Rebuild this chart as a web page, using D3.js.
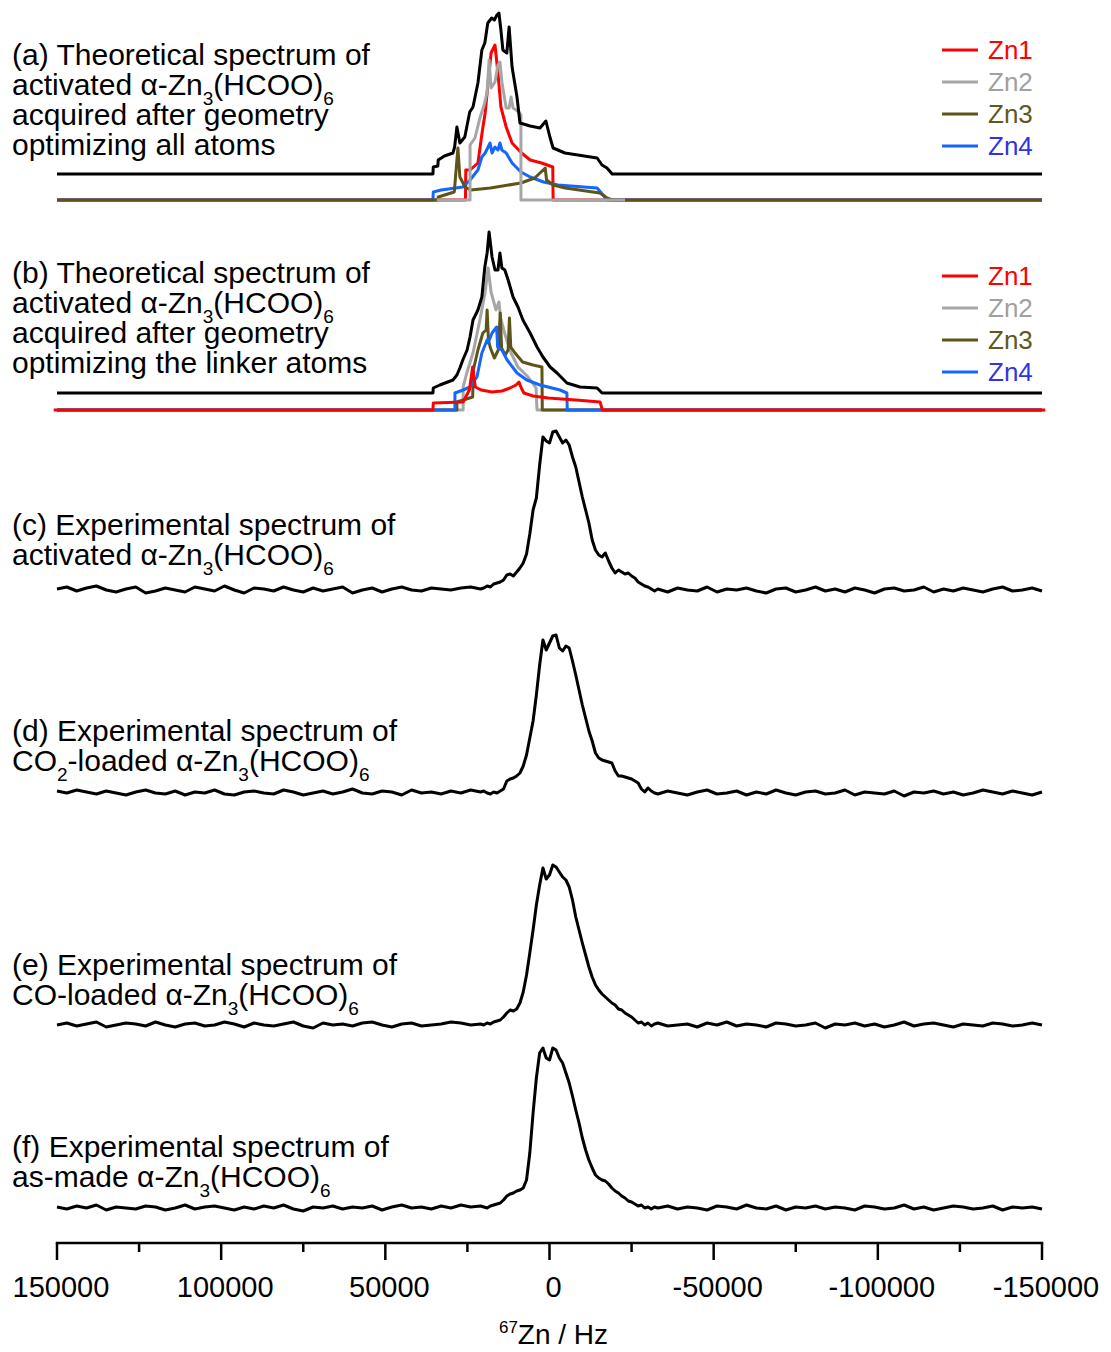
<!DOCTYPE html>
<html><head><meta charset="utf-8">
<script src="https://cdn.jsdelivr.net/npm/d3@7"></script>
<style>
body{margin:0;background:#fff}
svg{display:block}
text{font-family:"Liberation Sans",Arial,Helvetica,sans-serif;fill:#000}
</style>
</head><body>
<svg id="chart" width="1111" height="1352"></svg>
<script>
// ---------------- DATA (frequency in kHz, intensity in arbitrary units) ----------------
const majorTicks = [150, 100, 50, 0, -50, -100, -150];
const minorTicks = [125, 75, 25, -25, -75, -125];
const tickLabels = ["150000", "100000", "50000", "0", "-50000", "-100000", "-150000"];
const axisTitle = ["67", "Zn / Hz"];

const seriesNames = ["Zn1", "Zn2", "Zn3", "Zn4"];

// (a) theoretical, all atoms optimized
const aTotal = [[150,0],[35.5,0],[35.4,7],[34.0,8],[33.9,14],[32.0,18],[29.4,21],[28.9,27],[28.2,47],[27.3,31],[25.8,37],[24.3,62],[23.3,67],[21.8,91],[20.6,124],[19.7,131],[18.8,151],[17.6,156],[16.8,154],[16.0,159],[15.4,161],[14.8,144],[14.2,124],[13.0,121],[12.3,147],[11.4,107],[9.9,77],[9.0,51],[5.9,48],[2.9,46],[1.1,53],[-0.2,36],[-1.1,26],[-4.7,21],[-14.5,16],[-16.0,9],[-17.5,6],[-19.1,0],[-150,0]];
const aZn1 = [[150,0],[25.6,0],[25.5,30],[24.2,30],[21.8,37],[20.5,68],[19.6,87],[18.7,117],[17.8,147],[16.6,155],[15.7,127],[14.8,93],[13.2,73],[11.4,57],[8.5,47],[5.9,40],[2.4,37],[-1.0,33],[-1.1,0],[-150,0]];
const aZn2 = [[34.3,0],[24.2,0],[24.2,55],[22.7,62],[21.2,82],[19.9,95],[19.0,108],[18.4,140],[17.8,112],[16.6,118],[15.7,135],[15.1,138],[14.5,118],[13.2,92],[12.3,92],[11.7,103],[11.1,92],[9.3,88],[8.7,85],[8.7,0],[-23,0]];
const aZn3 = [[150,0],[34.0,0],[33.9,3],[29.0,8],[27.9,52],[27.3,23],[25.7,13],[24.0,10],[18.0,12],[8.7,17],[4.5,22],[1.3,32],[0.9,20],[-1.1,15],[-4.8,12],[-15.3,7],[-16.3,5],[-17.5,2],[-19.1,0],[-150,0]];
const aZn4 = [[150,0],[35.5,0],[35.4,8],[33.0,10],[26.4,13],[24.2,20],[21.8,30],[20.6,43],[19.6,47],[18.1,57],[17.5,47],[16.6,53],[15.7,50],[15.1,57],[14.5,50],[13.2,47],[11.4,37],[8.7,28],[5.9,23],[1.8,18],[-2.6,15],[-14.5,12],[-16.3,5],[-17.5,0],[-150,0]];

// (b) theoretical, linker atoms optimized
const bTotal = [[150,0],[35.5,0],[35.4,5],[33.4,8],[29.4,13],[28.2,18],[27.3,25],[26.4,33],[25.1,43],[24.2,56],[23.3,73],[21.8,83],[20.6,96],[19.7,126],[19.0,140],[18.4,161],[17.5,136],[16.6,123],[15.7,123],[15.1,140],[14.5,125],[13.6,123],[12.6,113],[11.1,96],[9.6,86],[8.1,73],[5.9,60],[3.8,46],[2.0,36],[-0.2,26],[-2.3,20],[-5.3,10],[-9.3,6],[-14.5,5],[-16.0,0],[-150,0]];
const bZn1 = [[151,0],[35.5,0],[35.4,7],[26.3,8],[24.4,20],[23.4,43],[22.6,23],[20.8,20],[17.5,18],[14.5,19],[12.0,22],[10.2,25],[9.3,28],[8.6,22],[7.8,17],[5.0,14],[0.4,12],[-8.0,10],[-15.4,8],[-16.1,0],[-151,0]];
const bZn2 = [[150,0],[26.3,0],[26.3,23],[25.2,37],[23.3,57],[21.2,90],[19.6,118],[18.7,142],[17.8,118],[16.3,100],[15.4,108],[14.9,92],[13.5,75],[11.7,57],[9.6,43],[6.5,33],[4.1,22],[3.8,0],[-150,0]];
const bZn3 = [[150,0],[28.2,0],[28.2,8],[23.4,13],[23.2,40],[21.8,60],[20.3,77],[19.3,80],[19.0,100],[18.6,70],[18.0,62],[16.8,52],[15.6,60],[15.0,97],[14.6,62],[13.5,55],[12.6,60],[12.2,92],[11.8,63],[10.5,57],[8.2,48],[5.0,45],[2.3,43],[2.2,0],[-150,0]];
const bZn4 = [[150,0],[28.8,0],[28.8,17],[26.3,20],[24.2,23],[22.1,33],[20.6,57],[19.0,70],[18.7,67],[17.5,77],[16.1,83],[15.8,63],[14.5,60],[12.9,50],[9.9,37],[6.9,30],[2.9,25],[-3.2,20],[-5.3,17],[-5.4,0],[-150,0]];

// experimental spectra: sampling frequencies (kHz)
const expKHz = [
 150,147,144,141,138,135,132,129,126,123,120,117,114,111,108,105,102,99,96,93,90,87,84,81,78,75,72,69,66,63,60,57,54,51,48,45,42,39,36,33,30,27,24,21,
 20,19,18,17,16,15,14,13,12,11,10,9,8,7,6,5,4,3,2,1,0,-1,-2,-3,-4,-5,-6,-7,-8,-9,-10,-11,-12,-13,-14,-15,-16,-17,-18,-19,-20,-21,-22,-23,-24,-25,-26,-27,-28,-29,-30,-31,-32,
 -33,-36,-39,-42,-45,-48,-51,-54,-57,-60,-63,-66,-69,-72,-75,-78,-81,-84,-87,-90,-93,-96,-99,-102,-105,-108,-111,-114,-117,-120,-123,-126,-129,-132,-135,-138,-141,-144,-147,-150];

const cVals = [
 1,3,-1,2,4,0,-2,1,3,-3,-1,2,0,-2,3,1,-1,4,0,-3,2,1,-1,3,0,-2,2,-1,1,3,-3,0,2,-2,1,3,0,-1,2,1,0,2,3,1,
 2,4,3,6,7,8,10,15,16,14,18,22,27,36,56,80,92,125,153,149,147,158,159,153,147,150,145,133,123,108,93,80,67,50,40,35,33,37,29,22,17,20,18,16,17,14,12,8,6,4,3,1,-1,
 1,-2,2,0,-1,3,-2,1,0,2,-1,-3,1,2,-2,0,3,-1,1,-2,2,0,-3,1,2,-1,0,3,-2,1,-1,2,0,-2,1,3,-1,0,2,-1];
const dVals = [
 2,0,3,1,-1,2,0,-2,1,3,0,-1,2,-2,1,0,3,-1,-2,1,2,0,-1,3,1,-2,0,2,-1,1,4,0,-1,2,1,-2,3,0,1,-1,2,0,3,1,
 2,0,-1,1,0,2,4,12,14,15,17,20,27,38,55,72,98,128,153,143,150,157,158,145,142,147,145,132,118,103,88,75,62,52,40,35,33,32,31,30,22,17,17,16,15,14,12,10,4,1,5,2,0,
 -1,2,0,-2,1,3,-1,0,2,-2,1,-1,3,0,-2,1,2,-1,0,3,-2,1,0,-1,2,-3,1,0,2,-1,1,-2,0,3,1,-1,2,0,-2,1];
const eVals = [
 0,2,-1,1,3,-2,0,2,1,-1,3,0,-2,1,2,-1,0,3,1,-2,2,0,-1,1,3,-1,-3,2,0,1,-1,2,3,0,-2,1,2,-1,0,1,3,2,0,1,
 0,2,1,3,4,5,8,12,15,14,16,22,33,50,72,95,120,140,157,146,150,160,158,153,148,145,138,125,108,95,82,70,58,48,40,35,31,28,25,22,20,16,15,12,10,8,5,2,3,0,2,-1,1,
 2,-1,0,1,-2,2,0,3,-1,1,0,-2,2,1,-1,0,2,-3,1,0,2,-1,1,-2,0,3,-1,1,2,0,-2,1,0,-1,2,1,-1,0,2,0];
const fVals = [
 1,-1,2,0,3,-2,1,0,-1,2,1,-2,0,3,-1,1,2,0,-2,1,-1,2,0,3,-1,-3,1,0,2,-1,1,0,2,-2,1,3,0,1,-1,2,0,3,1,2,
 1,0,2,3,4,5,8,12,14,15,17,18,20,28,55,95,130,155,160,150,148,160,158,150,145,135,125,112,98,85,70,58,48,40,33,30,28,27,24,20,17,15,12,10,7,6,4,2,3,0,1,-1,1,
 0,2,-1,1,0,-2,2,1,-1,3,0,-1,2,-2,1,0,2,-1,1,0,-2,2,1,-1,0,3,-1,1,-2,0,2,1,-1,0,2,-2,1,0,1,-1];

// panel captions ("_x" = subscript character)
const labelA = ["(a) Theoretical spectrum of", "activated α-Zn_3(HCOO)_6", "acquired after geometry", "optimizing all atoms"];
const labelB = ["(b) Theoretical spectrum of", "activated α-Zn_3(HCOO)_6", "acquired after geometry", "optimizing the linker atoms"];
const labelC = ["(c) Experimental spectrum of", "activated α-Zn_3(HCOO)_6"];
const labelD = ["(d) Experimental spectrum of", "CO_2-loaded α-Zn_3(HCOO)_6"];
const labelE = ["(e) Experimental spectrum of", "CO-loaded α-Zn_3(HCOO)_6"];
const labelF = ["(f) Experimental spectrum of", "as-made α-Zn_3(HCOO)_6"];

// ---------------- DRAWING ----------------
const colors = {Zn1: "#ff0000", Zn2: "#a6a6a6", Zn3: "#5c5418", Zn4: "#1466ff"};
const textColors = {Zn1: "#ff0000", Zn2: "#a0a0a0", Zn3: "#5e5822", Zn4: "#2f36e0"};

const svg = d3.select("#chart");
const x = d3.scaleLinear().domain([150, -150]).range([57, 1042]);
const yAt = base => d3.scaleLinear().domain([0, 100]).range([base, base - 100]);

function drawLine(data, y, color, w) {
  svg.append("path").datum(data)
    .attr("d", d3.line().x(d => x(d[0])).y(d => y(d[1])))
    .attr("fill", "none").attr("stroke", color).attr("stroke-width", w)
    .attr("stroke-linejoin", "round").attr("stroke-linecap", "butt");
}

// panel (a)
const yA = yAt(174), yAc = yAt(200);
drawLine(aZn1, yAc, colors.Zn1, 3);
drawLine(aZn4, yAc, colors.Zn4, 3);
drawLine(aZn3, yAc, colors.Zn3, 3);
drawLine(aZn2, yAc, colors.Zn2, 3);
drawLine(aTotal, yA, "#000", 3);

// panel (b)
const yB = yAt(393), yBc = yAt(410);
drawLine(bZn2, yBc, colors.Zn2, 3);
drawLine(bZn3, yBc, colors.Zn3, 3);
drawLine(bZn4, yBc, colors.Zn4, 3);
drawLine(bZn1, yBc, colors.Zn1, 3);
drawLine(bTotal, yB, "#000", 3);

// experimental
const expBases = [590, 793, 1025, 1208];
[cVals, dVals, eVals, fVals].forEach((vals, i) => {
  const pts = expKHz.map((k, j) => [k, vals[j]]);
  drawLine(pts, yAt(expBases[i]), "#000", 3);
});

// captions
function caption(lines, top) {
  lines.forEach((ln, i) => {
    const base = top + i * 30;
    const t = svg.append("text").attr("x", 12).attr("y", base).attr("font-size", 30);
    const parts = ln.split(/(_.)/);
    parts.forEach(p => {
      if (!p) return;
      if (p[0] === "_") {
        t.append("tspan").attr("y", base + 10).attr("font-size", 19).text(p[1]);
      } else {
        t.append("tspan").attr("y", base).text(p);
      }
    });
  });
}
caption(labelA, 65);
caption(labelB, 283);
caption(labelC, 535);
caption(labelD, 741);
caption(labelE, 975);
caption(labelF, 1157);

// legends
function legend(top) {
  seriesNames.forEach((n, i) => {
    const yy = top + i * 32;
    svg.append("line").attr("x1", 942).attr("x2", 978).attr("y1", yy).attr("y2", yy)
      .attr("stroke", colors[n]).attr("stroke-width", 3);
    svg.append("text").attr("x", 988).attr("y", yy + 9).attr("font-size", 26)
      .style("fill", textColors[n]).text(n);
  });
}
legend(50);
legend(276);

// axis
const axisY = 1243;
const ax = svg.append("g").attr("transform", `translate(0,${axisY})`);
ax.append("line").attr("x1", x(150)).attr("x2", x(-150)).attr("stroke", "#000").attr("stroke-width", 2.5)
  .attr("stroke-linecap", "square");
ax.selectAll(".maj").data(majorTicks).enter().append("line")
  .attr("x1", d => x(d)).attr("x2", d => x(d)).attr("y1", 0).attr("y2", 17)
  .attr("stroke", "#000").attr("stroke-width", 2.5);
ax.selectAll(".min").data(minorTicks).enter().append("line")
  .attr("x1", d => x(d)).attr("x2", d => x(d)).attr("y1", 0).attr("y2", 9)
  .attr("stroke", "#000").attr("stroke-width", 2.5);
ax.selectAll(".lab").data(majorTicks).enter().append("text")
  .attr("x", d => x(d) + 4).attr("y", 54).attr("text-anchor", "middle").attr("font-size", 29)
  .text((d, i) => tickLabels[i]);

const title = svg.append("text").attr("x", x(0) + 4).attr("y", 1344).attr("text-anchor", "middle").attr("font-size", 28);
title.append("tspan").attr("font-size", 17).attr("dy", -11).text(axisTitle[0]);
title.append("tspan").attr("dy", 11).text(axisTitle[1]);
</script>
</body></html>
